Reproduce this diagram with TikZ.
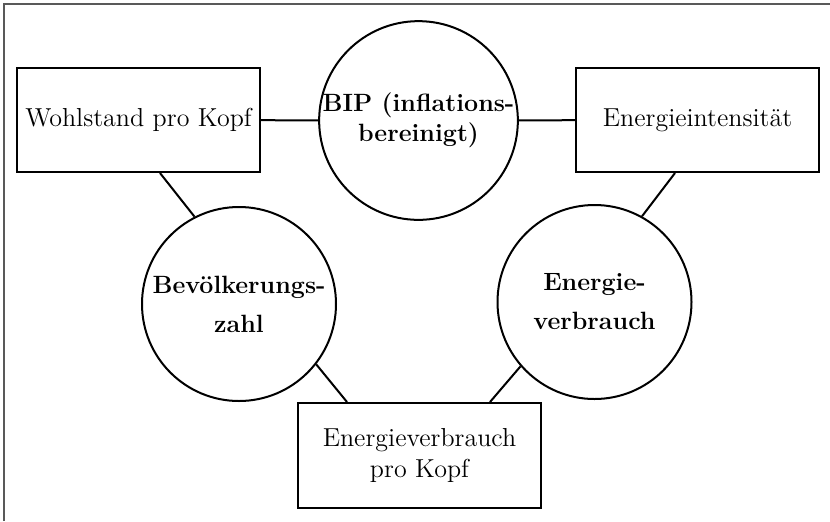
\documentclass[tikz,border=0pt]{standalone}
\usepackage{xcolor}

\begin{document}
\begin{tikzpicture}[x=0.5pt,y=-0.5pt,line width=1pt,
    kasten/.style={draw,rectangle,minimum width=121.5pt,minimum height=52pt,inner sep=0pt,align=center,font=\fontsize{13}{15.5}\selectfont},
    kreis/.style={draw,circle,minimum size=97pt,inner sep=0pt,align=center,font=\fontsize{12.5}{15}\selectfont\bfseries}]
  \useasboundingbox (0,0) rectangle (830,521);
  \draw[line width=0.6pt,black!65] (4,521) -- (4,4) -- (830,4);

  \node[kasten] (wohl) at (138.5,120) {Wohlstand pro Kopf};
  \node[kreis] (bip) at (418.5,120.5) {BIP (inflations-\\bereinigt)};
  \node[kasten] (inten) at (697.5,120) {Energieintensität};

  \node[kreis] (bev) at (239,304) {Bevölkerungs-\\[4.5pt]zahl};
  \node[kreis] (ever) at (594.5,302) {Energie-\\[4.5pt]verbrauch};

  \node[kasten,minimum height=52.5pt] (epk) at (419.5,455.5) {Energieverbrauch\\pro Kopf};

  \draw (wohl) edge (bip);
  \draw (bip) edge (inten);
  \draw ([xshift=10.75pt]wohl.south) -- (bev.117);
  \draw ([xshift=-11.25pt]inten.south) -- (ever.61);
  \draw (bev.-38) -- ([xshift=-36.25pt]epk.north);
  \draw (ever.221) -- ([xshift=35.25pt]epk.north);
\end{tikzpicture}
\end{document}
